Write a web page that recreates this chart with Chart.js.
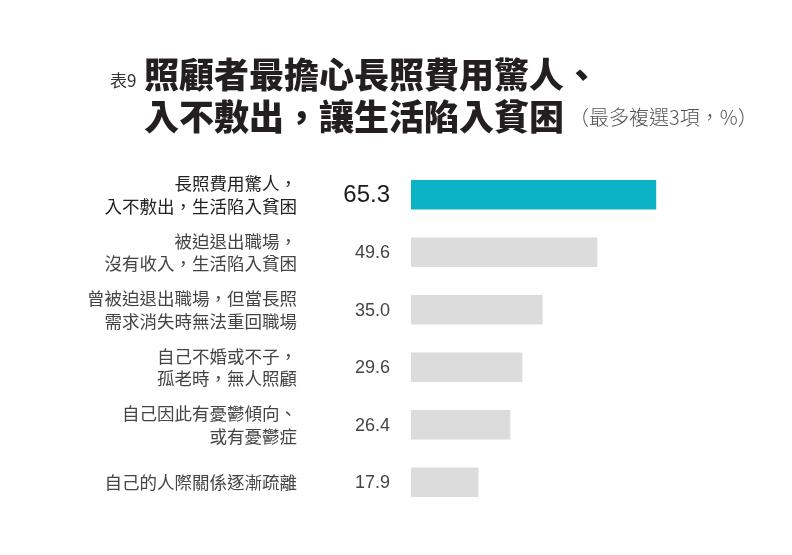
<!DOCTYPE html>
<html>
<head>
<meta charset="utf-8">
<script src="https://cdn.jsdelivr.net/npm/chart.js@4.4.0/dist/chart.umd.min.js"></script>
<style>
  body { margin: 0; background: #fff; }
  #wrap { position: relative; width: 792px; height: 555px; }
  #chart { position: absolute; left: 0; top: 0; }
  .t { position: absolute; white-space: nowrap; font-family: "Noto Sans CJK TC", sans-serif; color: #231f20; line-height: 1; }
  .big { font-size: 35px; font-weight: 900; }
  .tag { font-size: 17px; color: #333; }
  .note { font-size: 20px; color: #555; font-weight: 300; }
</style>
</head>
<body>
<div id="wrap">
  <canvas id="chart" width="792" height="555"></canvas>
  <div class="t tag" style="left:110px; top:71px;">表9</div>
  <div class="t big" style="left:144px; top:55px;">照顧者最擔心長照費用驚人、</div>
  <div class="t big" style="left:144px; top:97px;">入不敷出，讓生活陷入貧困</div>
  <div class="t note" style="left:569px; top:107px;">（最多複選3項，%）</div>
</div>
<script>
// categories (multi-line labels) and values in %
const categories = [
    ['長照費用驚人，', '入不敷出，生活陷入貧困'],
    ['被迫退出職場，', '沒有收入，生活陷入貧困'],
    ['曾被迫退出職場，但當長照', '需求消失時無法重回職場'],
    ['自己不婚或不子，', '孤老時，無人照顧'],
    ['自己因此有憂鬱傾向、', '或有憂鬱症'],
    ['自己的人際關係逐漸疏離']
];
const values = [65.3, 49.6, 35.0, 29.6, 26.4, 17.9];

const TEAL = '#0bb3c6';
const GRAY = '#dcdcdc';

// draws the number to the left of each bar
const valueLabels = {
    id: 'valueLabels',
    afterDatasetsDraw(chart) {
        const ctx = chart.ctx;
        const meta = chart.getDatasetMeta(0);
        const left = chart.chartArea.left;
        ctx.save();
        ctx.textAlign = 'right';
        ctx.textBaseline = 'middle';
        meta.data.forEach((bar, i) => {
            if (i === 0) {
                ctx.font = '24px "Liberation Sans", Arial, sans-serif';
                ctx.fillStyle = '#1a1a1a';
            } else {
                ctx.font = '18px "Liberation Sans", Arial, sans-serif';
                ctx.fillStyle = '#444';
            }
            ctx.fillText(values[i].toFixed(1), left - 21, bar.y + 1);
        });
        ctx.restore();
    }
};

new Chart(document.getElementById('chart').getContext('2d'), {
    type: 'bar',
    data: {
        labels: categories,
        datasets: [{
            data: values,
            backgroundColor: (c) => c.dataIndex === 0 ? TEAL : GRAY,
            barThickness: 29,
            borderWidth: 0
        }]
    },
    options: {
        indexAxis: 'y',
        responsive: false,
        animation: false,
        devicePixelRatio: 1,
        layout: {padding: {left: 0, top: 166, right: 81, bottom: 44}},
        plugins: {
            legend: {display: false},
            tooltip: {enabled: false}
        },
        scales: {
            x: {
                display: false,
                min: 0,
                max: 80
            },
            y: {
                grid: {display: false, drawTicks: false},
                border: {display: false},
                afterFit: (scale) => {
                    scale.width = 411;
                    // tick padding is only meant for the horizontal gap
                    scale.paddingTop = 0;
                    scale.paddingBottom = 0;
                },
                ticks: {
                    padding: 114,
                    color: (c) => c.index === 0 ? '#222' : '#444',
                    font: {family: '"Noto Sans CJK TC", sans-serif', size: 17.5, lineHeight: 1.3}
                }
            }
        }
    },
    plugins: [valueLabels]
});
</script>
</body>
</html>
